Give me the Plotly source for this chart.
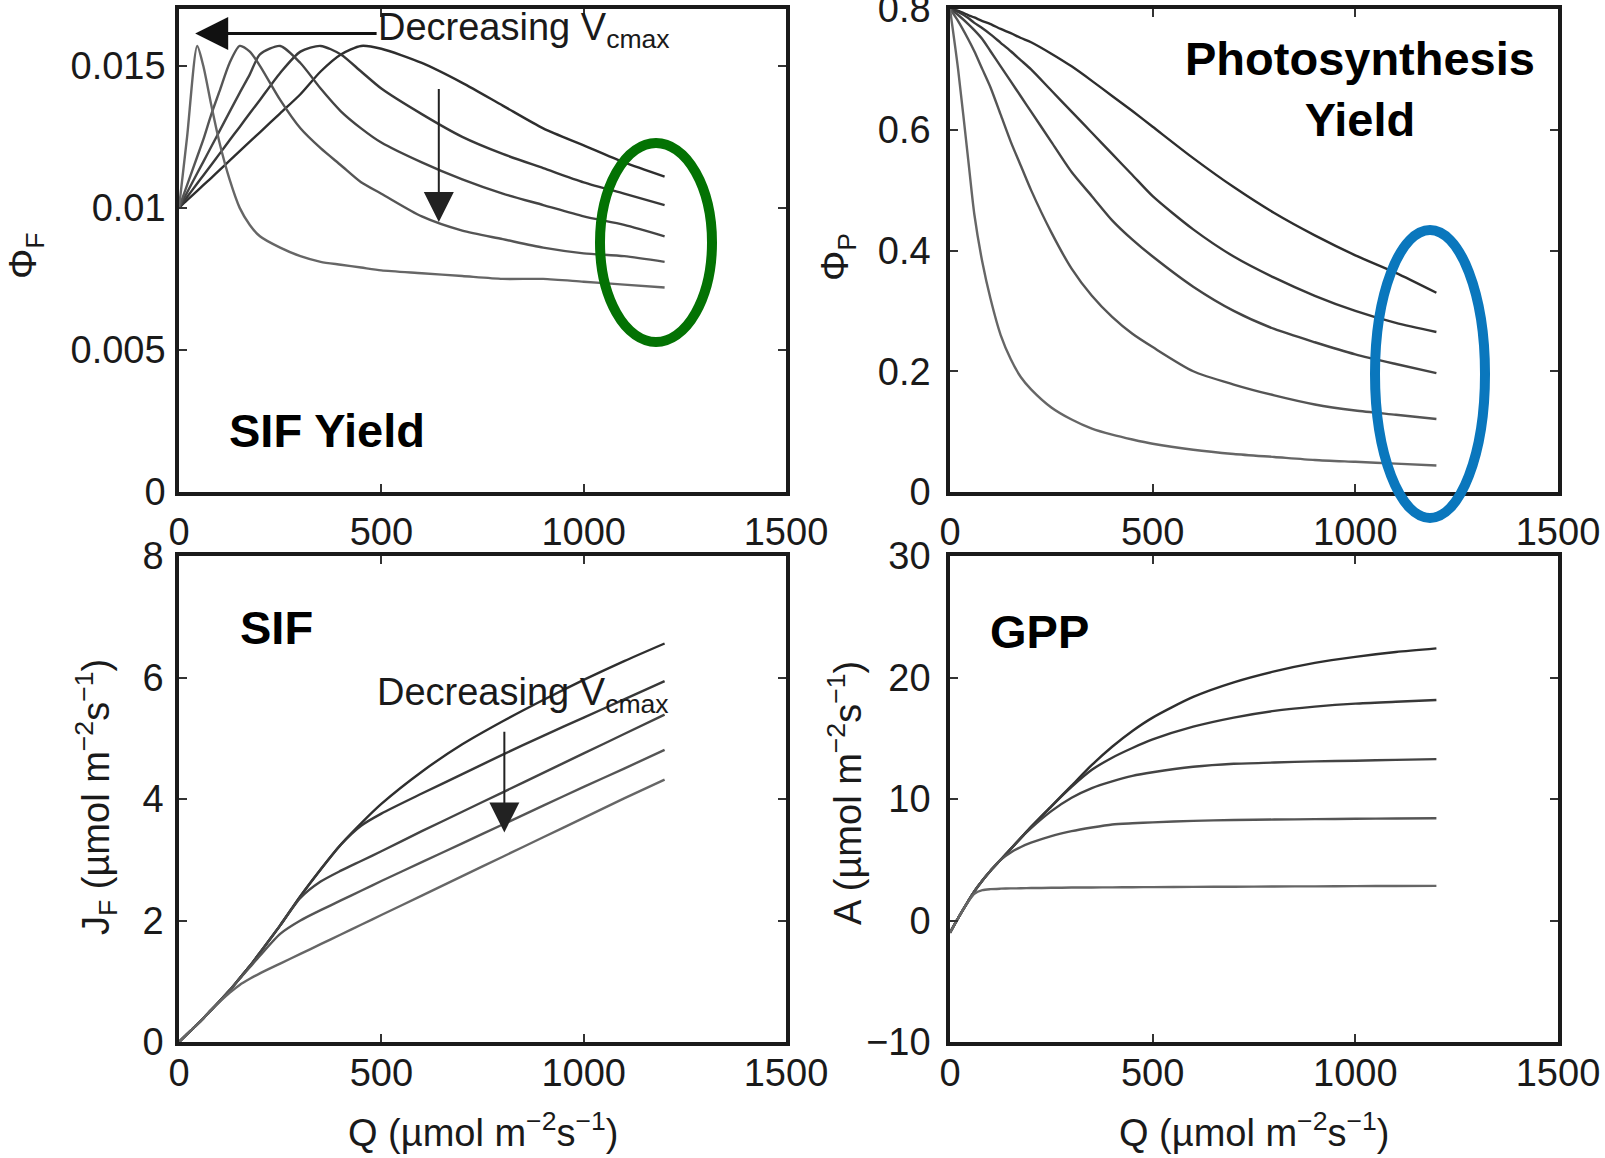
import plotly.graph_objects as go

# ---------------- data ----------------
Q = [0, 20, 45, 60, 80, 100, 125, 150, 175, 200, 250, 300, 350, 400, 450,
     500, 600, 700, 800, 900, 1000, 1100, 1200]

# SIF yield (Phi_F), highest Vcmax first
phiF_1 = [0.0100, 0.01027, 0.0106, 0.0108, 0.01106, 0.01133, 0.01166, 0.0120, 0.01233, 0.01266, 0.01333, 0.0140, 0.0148,
          0.0154, 0.0157, 0.0156, 0.0151, 0.0144, 0.0136, 0.0128, 0.0122, 0.0116, 0.0111]
phiF_2 = [0.0100, 0.01038, 0.01086, 0.01114, 0.01152, 0.0119, 0.01238, 0.01285, 0.01333, 0.0138, 0.01475, 0.0155, 0.0157,
          0.0154, 0.0148, 0.0142, 0.0133, 0.0125, 0.0119, 0.0114, 0.0109, 0.0105, 0.0101]
phiF_3 = [0.0100, 0.01054, 0.01122, 0.01162, 0.01216, 0.0127, 0.01338, 0.01405, 0.0147, 0.0154, 0.0157, 0.0151, 0.0142,
          0.0134, 0.0128, 0.0123, 0.0116, 0.0110, 0.0105, 0.0101, 0.0097, 0.0094, 0.0090]
phiF_4 = [0.0100, 0.0108, 0.0118, 0.0124, 0.0133, 0.0141, 0.0151, 0.0157, 0.0155, 0.0150, 0.0138, 0.0128, 0.0121,
          0.0115, 0.0109, 0.0105, 0.0097, 0.0092, 0.0089, 0.0086, 0.0084, 0.0083, 0.0081]
phiF_5 = [0.0100, 0.0125, 0.0157, 0.0150, 0.0136, 0.0123, 0.0110, 0.0100, 0.0094, 0.0090, 0.0086, 0.0083, 0.0081,
          0.0080, 0.0079, 0.0078, 0.0077, 0.0076, 0.0075, 0.0075, 0.0074, 0.0073, 0.0072]

# Photosynthesis yield (Phi_P)
phiP_1 = [0.80, 0.797, 0.79, 0.786, 0.78, 0.775, 0.767, 0.76, 0.752, 0.745, 0.726, 0.705, 0.681,
          0.656, 0.631, 0.605, 0.553, 0.505, 0.462, 0.425, 0.392, 0.363, 0.33]
phiP_2 = [0.80, 0.795, 0.785, 0.777, 0.768, 0.758, 0.744, 0.73, 0.715, 0.70, 0.665, 0.63, 0.595,
          0.56, 0.525, 0.49, 0.435, 0.39, 0.355, 0.325, 0.30, 0.28, 0.265]
phiP_3 = [0.80, 0.79, 0.775, 0.765, 0.75, 0.73, 0.705, 0.68, 0.655, 0.63, 0.58, 0.53, 0.49,
          0.45, 0.418, 0.39, 0.34, 0.30, 0.27, 0.248, 0.228, 0.212, 0.197]
phiP_4 = [0.80, 0.78, 0.75, 0.73, 0.70, 0.67, 0.625, 0.58, 0.54, 0.50, 0.43, 0.37, 0.325,
          0.29, 0.262, 0.24, 0.20, 0.178, 0.16, 0.145, 0.135, 0.128, 0.121]
phiP_5 = [0.80, 0.70, 0.55, 0.46, 0.38, 0.32, 0.26, 0.22, 0.19, 0.17, 0.14, 0.12, 0.105,
          0.095, 0.087, 0.080, 0.070, 0.063, 0.058, 0.053, 0.050, 0.047, 0.044]

# SIF (J_F)
jF_1 = [0, 0.13, 0.29, 0.39, 0.53, 0.67, 0.85, 1.05, 1.25, 1.47, 1.92, 2.40, 2.84,
        3.25, 3.60, 3.92, 4.45, 4.90, 5.28, 5.63, 5.96, 6.27, 6.56]
jF_2 = [0, 0.13, 0.29, 0.39, 0.53, 0.67, 0.85, 1.05, 1.25, 1.47, 1.92, 2.40, 2.84,
        3.25, 3.56, 3.76, 4.09, 4.41, 4.73, 5.04, 5.34, 5.64, 5.94]
jF_3 = [0, 0.13, 0.29, 0.39, 0.53, 0.67, 0.85, 1.05, 1.25, 1.47, 1.92, 2.37, 2.64,
        2.82, 2.98, 3.14, 3.47, 3.79, 4.11, 4.43, 4.75, 5.07, 5.39]
jF_4 = [0, 0.13, 0.29, 0.39, 0.53, 0.67, 0.85, 1.04, 1.23, 1.42, 1.78, 2.00, 2.17,
        2.33, 2.49, 2.65, 2.96, 3.27, 3.58, 3.89, 4.20, 4.50, 4.81]
jF_5 = [0, 0.13, 0.29, 0.39, 0.53, 0.66, 0.81, 0.94, 1.04, 1.13, 1.29, 1.45, 1.61,
        1.77, 1.93, 2.09, 2.41, 2.73, 3.05, 3.37, 3.69, 4.01, 4.32]

# GPP (A)
A_1 = [-1.0, 0.2, 1.6, 2.4, 3.3, 4.1, 5.0, 5.9, 6.8, 7.7, 9.4, 11.1, 12.8,
       14.3, 15.6, 16.7, 18.4, 19.6, 20.5, 21.2, 21.7, 22.1, 22.4]
A_2 = [-1.0, 0.2, 1.6, 2.4, 3.3, 4.1, 5.0, 5.9, 6.8, 7.7, 9.4, 11.0, 12.4,
       13.4, 14.2, 14.9, 15.95, 16.7, 17.25, 17.6, 17.85, 18.0, 18.15]
A_3 = [-1.0, 0.2, 1.6, 2.4, 3.3, 4.1, 5.0, 5.9, 6.8, 7.6, 9.0, 10.1, 10.9,
       11.45, 11.9, 12.2, 12.65, 12.9, 13.0, 13.1, 13.15, 13.22, 13.28]
A_4 = [-1.0, 0.2, 1.6, 2.4, 3.3, 4.1, 5.0, 5.6, 6.05, 6.4, 6.95, 7.35, 7.65,
       7.9, 8.0, 8.08, 8.2, 8.27, 8.31, 8.34, 8.37, 8.4, 8.42]
A_5 = [-1.0, 0.2, 1.55, 2.2, 2.5, 2.58, 2.62, 2.64, 2.65, 2.67, 2.69, 2.71, 2.72,
       2.73, 2.74, 2.75, 2.77, 2.78, 2.8, 2.81, 2.83, 2.84, 2.85]

x_ticks = [0, 500, 1000, 1500]
x_ticktext = ["0", "500", "1000", "1500"]
phiF_ticks = [0, 0.005, 0.01, 0.015]
phiF_ticktext = ["0", "0.005", "0.01", "0.015"]
phiP_ticks = [0, 0.2, 0.4, 0.6, 0.8]
phiP_ticktext = ["0", "0.2", "0.4", "0.6", "0.8"]
jF_ticks = [0, 2, 4, 6, 8]
jF_ticktext = ["0", "2", "4", "6", "8"]
A_ticks = [-10, 0, 10, 20, 30]
A_ticktext = ["\u221210", "0", "10", "20", "30"]

# ---------------- layout geometry ----------------
W, H = 1605, 1158
FONT = "Liberation Sans, Arial, Helvetica, sans-serif"
TXT = "#1a1a1a"


def fx(px):
    return px / W


def fy(py):
    return 1 - py / H


LEFT = [fx(179), fx(786)]
RIGHT = [fx(950), fx(1558)]
TOP = [fy(492), fy(9)]
BOTTOM = [fy(1042), fy(556)]

line_colors = ["#2e2e2e", "#383838", "#444444", "#555555", "#666666"]

fig = go.Figure()

panels = [
    ("x", "y", [phiF_1, phiF_2, phiF_3, phiF_4, phiF_5]),
    ("x2", "y2", [phiP_1, phiP_2, phiP_3, phiP_4, phiP_5]),
    ("x3", "y3", [jF_1, jF_2, jF_3, jF_4, jF_5]),
    ("x4", "y4", [A_1, A_2, A_3, A_4, A_5]),
]
for xa, ya, series in panels:
    for i, s in enumerate(series):
        fig.add_trace(go.Scatter(
            x=Q, y=s, mode="lines", xaxis=xa, yaxis=ya, showlegend=False,
            line=dict(color=line_colors[i], width=2.4, shape="spline", smoothing=0.7),
            hoverinfo="skip"))


def common_axis(standoff):
    return dict(tickmode="array", ticks="inside", ticklen=8,
                tickwidth=1.5, tickcolor="#333", showline=True, linewidth=3.5,
                linecolor="#1a1a1a", mirror="ticks", showgrid=False, zeroline=False,
                tickfont=dict(family=FONT, size=38, color=TXT),
                ticklabelstandoff=standoff, automargin=False,
                ticklabeloverflow="allow")


def xaxis(domain, anchor, standoff):
    d = common_axis(standoff)
    d.update(domain=domain, anchor=anchor, range=[0, 1500],
             tickvals=x_ticks, ticktext=x_ticktext)
    return d


def yaxis(domain, anchor, rng, vals, text, standoff):
    d = common_axis(standoff)
    d.update(domain=domain, anchor=anchor, range=rng, tickvals=vals, ticktext=text)
    return d


fig.update_layout(
    width=W, height=H,
    margin=dict(l=0, r=0, t=0, b=0, autoexpand=False),
    paper_bgcolor="white", plot_bgcolor="white",
    xaxis=xaxis(LEFT, "y", 4),
    yaxis=yaxis(TOP, "x", [0, 0.017], phiF_ticks, phiF_ticktext, 2),
    xaxis2=xaxis(RIGHT, "y2", 4),
    yaxis2=yaxis(TOP, "x2", [0, 0.8], phiP_ticks, phiP_ticktext, 8),
    xaxis3=xaxis(LEFT, "y3", -5),
    yaxis3=yaxis(BOTTOM, "x3", [0, 8], jF_ticks, jF_ticktext, 4),
    xaxis4=xaxis(RIGHT, "y4", -5),
    yaxis4=yaxis(BOTTOM, "x4", [-10, 30], A_ticks, A_ticktext, 8),
)

ann = []
TF = dict(family=FONT, size=38, color=TXT)
# axis titles
ann.append(dict(xref="paper", yref="paper", x=fx(26), y=fy(256), text="\u03a6<sub>F</sub>",
                xanchor="center", yanchor="middle", textangle=-90, showarrow=False, font=TF))
ann.append(dict(xref="paper", yref="paper", x=fx(838), y=fy(257), text="\u03a6<sub>P</sub>",
                xanchor="center", yanchor="middle", textangle=-90, showarrow=False, font=TF))
ann.append(dict(xref="paper", yref="paper", x=fx(96), y=fy(797),
                text="J<sub>F</sub> (\u00b5mol m<sup>\u22122</sup>s<sup>\u22121</sup>)",
                xanchor="center", yanchor="middle", textangle=-90, showarrow=False, font=TF))
ann.append(dict(xref="paper", yref="paper", x=fx(845), y=fy(793),
                text="A (\u00b5mol m<sup>\u22122</sup>s<sup>\u22121</sup>)",
                xanchor="center", yanchor="middle", textangle=-90, showarrow=False, font=TF))
for cx in (483, 1254):
    ann.append(dict(xref="paper", yref="paper", x=fx(cx), y=fy(1130),
                    text="Q (\u00b5mol m<sup>\u22122</sup>s<sup>\u22121</sup>)",
                    xanchor="center", yanchor="middle", showarrow=False, font=TF))

# "Decreasing Vcmax" labels
ann.append(dict(xref="x", yref="y", x=488, y=0.01625, xanchor="left", yanchor="middle",
                text="Decreasing V<sub>cmax</sub>", showarrow=False, font=TF))
ann.append(dict(xref="x3", yref="y3", x=485, y=5.72, xanchor="left", yanchor="middle",
                text="Decreasing V<sub>cmax</sub>", showarrow=False, font=TF))
# arrows
ann.append(dict(xref="x", yref="y", x=40, y=0.01614, ax=492, ay=0.01614, axref="x", ayref="y",
                text="", showarrow=True, arrowhead=2, arrowsize=2.2, arrowwidth=3,
                arrowcolor="#111"))
ann.append(dict(xref="x", yref="y", x=642, y=0.0095, ax=642, ay=0.01424, axref="x", ayref="y",
                text="", showarrow=True, arrowhead=2, arrowsize=3, arrowwidth=2,
                arrowcolor="#222"))
ann.append(dict(xref="x3", yref="y3", x=804, y=3.45, ax=804, ay=5.13, axref="x3", ayref="y3",
                text="", showarrow=True, arrowhead=2, arrowsize=3, arrowwidth=2,
                arrowcolor="#222"))

# bold panel labels
BOLD = dict(family=FONT, size=47, color="black")
ann.append(dict(xref="x", yref="y", x=119, y=0.00218, xanchor="left", yanchor="middle",
                text="<b>SIF Yield</b>", showarrow=False, font=BOLD))
ann.append(dict(xref="x2", yref="y2", x=1011, y=0.667, xanchor="center", yanchor="middle",
                text="<b>Photosynthesis</b><br><b>Yield</b>", showarrow=False, font=BOLD))
ann.append(dict(xref="x3", yref="y3", x=146, y=6.83, xanchor="left", yanchor="middle",
                text="<b>SIF</b>", showarrow=False, font=BOLD))
ann.append(dict(xref="x4", yref="y4", x=94, y=23.8, xanchor="left", yanchor="middle",
                text="<b>GPP</b>", showarrow=False, font=BOLD))

fig.update_layout(annotations=ann)

# highlight ellipses
fig.update_layout(shapes=[
    dict(type="circle", xref="paper", yref="paper", x0=fx(600), x1=fx(712), y0=fy(342), y1=fy(143),
         line=dict(color="#037203", width=10)),
    dict(type="circle", xref="paper", yref="paper", x0=fx(1375), x1=fx(1485), y0=fy(518), y1=fy(230),
         line=dict(color="#0a77bd", width=10)),
])

fig.write_html("out.html", config={"displayModeBar": False},
               post_script="document.body.style.margin='0px';document.body.style.overflow='hidden';")
